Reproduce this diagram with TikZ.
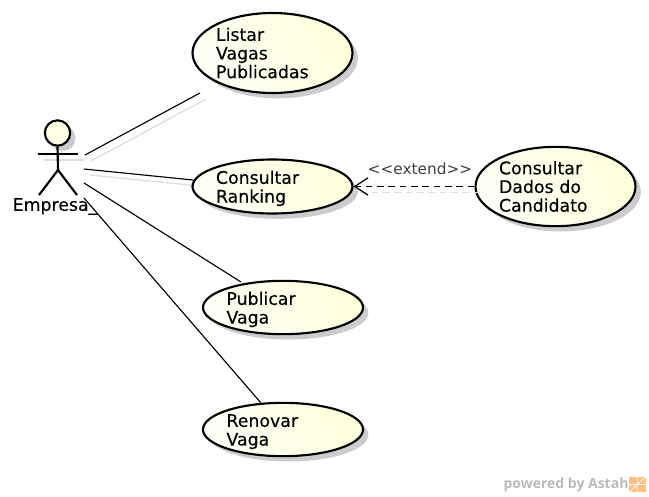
\documentclass[tikz,border=0pt]{standalone}
\usepackage{fontspec}
\setmainfont{DejaVu Sans}
\newfontfamily\ucfont[FakeBold=0.25]{DejaVu Sans}
\newfontfamily\markfont{Open Sans}
\usetikzlibrary{arrows.meta,shadows,positioning,shapes.geometric}
\definecolor{ucfill}{RGB}{255,255,222}
\tikzset{my usecase/.style={
  ellipse,
  draw,
  line width=1.6pt,
  left color=ucfill!30!white,
  right color=ucfill,
  shading angle=120,
  drop shadow={shadow xshift=4pt,shadow yshift=-4pt,fill=black!20,opacity=1},
  inner sep=0pt,
  minimum width=120pt,
  text width=84.75pt,
  align=left,
  font=\ucfont\fontsize{13}{14}\selectfont
  }
}
\tikzset{my short usecase/.style={
  my usecase,
  text height=12.7pt,
  inner ysep=-2pt
  }
}
\tikzset{my ghost/.style={
  black!13,
  line width=1pt,
  transform canvas={xshift=4.5pt,yshift=-4.5pt}
  }
}
\tikzset{my limb/.style={
  line width=1.6pt
  }
}
\tikzset{my assoc/.style={
  line width=0.85pt
  }
}
\tikzset{my extend/.style={
  line width=0.95pt,
  dash pattern=on 5pt off 3.5pt,
  -{Straight Barb[length=10pt,width=13pt]}
  }
}

\begin{document}
\begin{tikzpicture}[x=0.75pt,y=-0.75pt]
    \useasboundingbox (0,0) rectangle (649,496);

    % ends of the lines at the actor and at the use cases
    \foreach \x/\y [count=\n] in {85/155,84/169,84/183,84/198}
        \coordinate (Ac\n) at (\x,\y);
    \foreach \x/\y [count=\n] in {200/93,193/180,241/282,261/403}
        \coordinate (Uc\n) at (\x,\y);

    % line shadows
    \draw[my ghost] (Ac1) -- (Uc1);
    \draw[my ghost] (Ac2) -- (Uc2);
    \coordinate (ArmL) at (38,154);
    \coordinate (ArmR) at (78,154);
    \draw[my ghost] (ArmL) -- (ArmR);

    \node[my usecase,minimum height=60pt] (Listar) at (272.5,53) {Listar\\Vagas\\Publicadas};
    \node[my short usecase,minimum height=40.5pt] (Ranking) at (272.5,186.5) {Consultar\\Ranking};
    \node[my usecase,minimum height=59.5pt] (Dados) at (555.5,186.5) {Consultar\\Dados do\\Candidato};
    \node[my short usecase,minimum height=40pt] (Publicar) at (283,307.5) {Publicar\\Vaga};
    \node[my short usecase,minimum height=40pt] (Renovar) at (283,429.5) {Renovar\\Vaga};

    % actor
    \node[circle,draw,my limb,fill=ucfill!70!white,minimum size=19pt,inner sep=0pt,
      drop shadow={shadow xshift=4pt,shadow yshift=-4pt,fill=black!20,opacity=1}] (Head) at (57.5,133) {};
    \coordinate (Hip) at (58,170);
    \coordinate (FootL) at (39,195);
    \coordinate (FootR) at (77,195);
    \draw[my limb] (Head.south) -- (Hip);
    \draw[my limb] (ArmL) -- (ArmR);
    \draw[my limb] (FootL) -- (Hip) -- (FootR);
    \node[font=\ucfont\fontsize{13}{14}\selectfont,inner sep=0pt] (Empresa) at (55,206.5) {Empresa\_};

    \foreach \n in {1,...,4}
        \draw[my assoc] (Ac\n) -- (Uc\n);

    \draw[my ghost,dash pattern=on 5pt off 3.5pt] (Dados.west) -- (Ranking.east);
    \draw[my extend] (Dados.west) -- (Ranking.east);
    \node[font=\fontsize{11.5}{14}\selectfont,text=black!75,inner sep=0pt] (Extend) at (420,169) {<{}<extend>{}>};

    \node[font=\markfont\fontsize{10.5}{12}\bfseries\selectfont,text=black!27,inner sep=0pt] (Powered) at (566,484.5) {powered by Astah};
    \node[fill=orange!50,minimum width=12.5pt,minimum height=11.5pt,inner sep=0pt,right=0pt of Powered] (Logo) {};
    \draw[white,line width=0.6pt] (Logo.south west) -- (Logo.center) -- (Logo.north);
    \draw[white,line width=0.6pt] (Logo.west) -- (Logo.center) -- (Logo.east);
    \draw[white,line width=0.6pt] (Logo.north east) -- (Logo.center) -- (Logo.south);
\end{tikzpicture}
\end{document}
